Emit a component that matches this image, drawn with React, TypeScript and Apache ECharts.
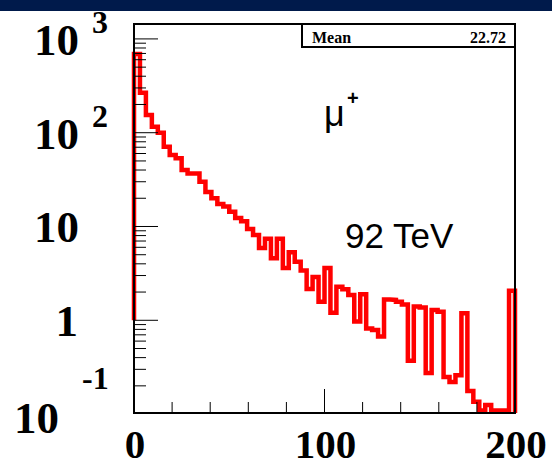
import React, { useEffect, useRef } from 'react';
import * as echarts from 'echarts';

// ---- data ----
const X_MIN = 0;
const X_MAX = 200;
const BIN_WIDTH = 3.125; // 64 bins over 0..200
const binCounts = [
  690, 267, 154, 116, 100, 71, 57.8, 53.3, 40, 36.7,
  36.7, 30, 23.3, 20, 17.4, 16.3, 14.4, 12.3, 11.4, 9.4,
  8.1, 5.9, 7.4, 4.6, 7.4, 3.6, 5.3, 4.2, 3.4, 2.16,
  2.9, 1.58, 3.6, 1.2, 2.28, 2.14, 1.86, 0.97, 1.89, 0.82,
  0.79, 0.67, 1.67, 1.65, 1.58, 1.47, 0.37, 1.4, 1.37, 0.274,
  1.29, 1.23, 0.249, 0.22, 0.26, 1.19, 0.176, 0.135, 0, 0.125,
  0, 0, 0, 2.07,
];
const START_LEVEL = 1; // outline starts at y = 1
const Y_MIN = 0.1027;
const Y_MAX = 1442;
const EMPTY_LEVEL = 0.109; // empty bins drawn on the frame floor

const yMajorTicks = [1, 10, 100, 1000];
const yMinorMultipliers = [2, 3, 4, 5, 6, 7, 8, 9];
const yDecades = [0.1, 1, 10, 100];
const xMinorTicks = [20, 40, 60, 80, 120, 140, 160, 180];
const xMajorTicks = [100];

const yLabelValues = [1000, 100, 10, 1, 0.1];
const yLabelBase = ['10', '10', '10', '1', '10'];
const yLabelExp = ['3', '2', '', '', '-1'];
const xLabelValues = [0, 100, 200];
const xLabelTexts = ['0', '100', '200'];

const statName = 'Mean';
const statValue = '22.72';
const particleText = 'μ';
const particleCharge = '+';
const energyText = '92 TeV';

// ---- layout ----
const GRID = { left: 134, top: 24, width: 381, height: 389 };
// [baseRightX, baseDy, expLeftX, expDy] relative to tick y
const yLabelLayout = [
  [79, 1, 92, -17],
  [79, 1, 92, -17],
  [79, 1, 92, -17],
  [78, 1, 92, -17],
  [59, 4, 82, -36],
];
const SERIF = "'Liberation Serif', 'Times New Roman', serif";
const SANS = "'Liberation Sans', Arial, sans-serif";

export default function App() {
  const ref = useRef<HTMLDivElement>(null);
  useEffect(() => {
    if (!ref.current) return;
    const chart = echarts.init(ref.current, null, { renderer: 'svg' });

    const pts: number[][] = [[X_MIN, START_LEVEL]];
    binCounts.forEach((c, i) => {
      const v = c > 0 ? c : EMPTY_LEVEL;
      pts.push([X_MIN + i * BIN_WIDTH, v]);
      pts.push([X_MIN + (i + 1) * BIN_WIDTH, v]);
    });
    pts.push([X_MAX, Y_MIN]);

    const yTicks: number[][] = [];
    yDecades.forEach((d) => {
      yMinorMultipliers.forEach((m) => {
        const v = d * m;
        if (v > Y_MIN && v < Y_MAX) yTicks.push([X_MIN, v, 0]);
      });
    });
    yMajorTicks.forEach((v) => yTicks.push([X_MIN, v, 1]));

    const xTicks: number[][] = [];
    xMinorTicks.forEach((v) => xTicks.push([v, Y_MIN, 0]));
    xMajorTicks.forEach((v) => xTicks.push([v, Y_MIN, 1]));

    const option: any = {
      animation: false,
      backgroundColor: '#ffffff',
      grid: { left: GRID.left, top: GRID.top, width: GRID.width, height: GRID.height, show: false },
      xAxis: {
        type: 'value', min: X_MIN, max: X_MAX,
        axisLine: { show: false }, axisTick: { show: false }, axisLabel: { show: false }, splitLine: { show: false },
      },
      yAxis: {
        type: 'log', logBase: 10, min: Y_MIN, max: Y_MAX,
        axisLine: { show: false }, axisTick: { show: false }, axisLabel: { show: false }, splitLine: { show: false },
      },
      series: [
        {
          type: 'line',
          data: pts,
          symbol: 'none',
          lineStyle: { color: '#ff0000', width: 4.5, join: 'miter' },
          itemStyle: { color: '#ff0000' },
          z: 5,
        },
        {
          type: 'custom',
          data: yTicks,
          z: 6,
          renderItem: (params: any, api: any) => {
            const p = api.coord([api.value(0), api.value(1)]);
            const len = api.value(2) ? 24 : 12;
            return {
              type: 'line',
              shape: { x1: p[0], y1: p[1], x2: p[0] + len, y2: p[1] },
              style: { stroke: '#000', lineWidth: 1 },
            };
          },
        },
        {
          type: 'custom',
          data: xTicks,
          z: 6,
          renderItem: (params: any, api: any) => {
            const p = api.coord([api.value(0), api.value(1)]);
            const len = api.value(2) ? 24 : 11;
            return {
              type: 'line',
              shape: { x1: p[0], y1: p[1], x2: p[0], y2: p[1] - len },
              style: { stroke: '#000', lineWidth: 1 },
            };
          },
        },
        {
          type: 'custom',
          data: yLabelValues.map((v) => [X_MIN, v]),
          z: 7,
          renderItem: (params: any, api: any) => {
            const i = params.dataIndex;
            const p = api.coord([api.value(0), api.value(1)]);
            const L = yLabelLayout[i];
            const children: any[] = [
              {
                type: 'text', x: L[0], y: p[1] + L[1],
                style: { text: yLabelBase[i], fill: '#000', fontSize: 45, lineHeight: 34, fontWeight: 'bold', fontFamily: SERIF, align: 'right', verticalAlign: 'middle' },
              },
            ];
            if (yLabelExp[i]) {
              children.push({
                type: 'text', x: L[2], y: p[1] + L[3],
                style: { text: yLabelExp[i], fill: '#000', fontSize: 32, lineHeight: 24, fontWeight: 'bold', fontFamily: SERIF, align: 'left', verticalAlign: 'middle' },
              });
            }
            return { type: 'group', children };
          },
        },
        {
          type: 'custom',
          data: xLabelValues.map((v) => [v, Y_MIN]),
          z: 7,
          renderItem: (params: any, api: any) => {
            const i = params.dataIndex;
            const p = api.coord([api.value(0), api.value(1)]);
            return {
              type: 'text', x: p[0] + 1, y: p[1] + 31,
              style: { text: xLabelTexts[i], fill: '#000', fontSize: 41, lineHeight: 30, fontWeight: 'bold', fontFamily: SERIF, align: 'center', verticalAlign: 'middle' },
            };
          },
        },
      ],
      graphic: [
        {
          type: 'rect', z: 100,
          shape: { x: GRID.left, y: GRID.top, width: GRID.width, height: GRID.height },
          style: { fill: 'none', stroke: '#000', lineWidth: 2 },
        },
        {
          type: 'rect', z: 101,
          shape: { x: 302, y: GRID.top, width: GRID.left + GRID.width - 302, height: 23 },
          style: { fill: '#fff', stroke: '#000', lineWidth: 2 },
        },
        {
          type: 'text', z: 102, x: 312, y: 37,
          style: { text: statName, fill: '#000', fontSize: 16, fontWeight: 'bold', fontFamily: SERIF, align: 'left', verticalAlign: 'middle' },
        },
        {
          type: 'text', z: 102, x: 506, y: 37,
          style: { text: statValue, fill: '#000', fontSize: 16, fontWeight: 'bold', fontFamily: SERIF, align: 'right', verticalAlign: 'middle' },
        },
        {
          type: 'text', z: 102, x: 324, y: 113,
          style: { text: particleText, fill: '#000', fontSize: 36, fontFamily: SANS, align: 'left', verticalAlign: 'middle' },
        },
        {
          type: 'text', z: 102, x: 347, y: 98,
          style: { text: particleCharge, fill: '#000', fontSize: 20, fontWeight: 'bold', fontFamily: SANS, align: 'left', verticalAlign: 'middle' },
        },
        {
          type: 'text', z: 102, x: 345, y: 235,
          style: { text: energyText, fill: '#000', fontSize: 35, fontFamily: SANS, align: 'left', verticalAlign: 'middle' },
        },
        {
          type: 'rect', z: 200,
          shape: { x: 0, y: 0, width: 552, height: 11 },
          style: { fill: '#001a4b' },
        },
      ],
    };
    chart.setOption(option);
    return () => chart.dispose();
  }, []);
  return <div ref={ref} style={{ position: 'absolute', left: 0, top: 0, width: 552, height: 467, background: '#fff' }} />;
}
